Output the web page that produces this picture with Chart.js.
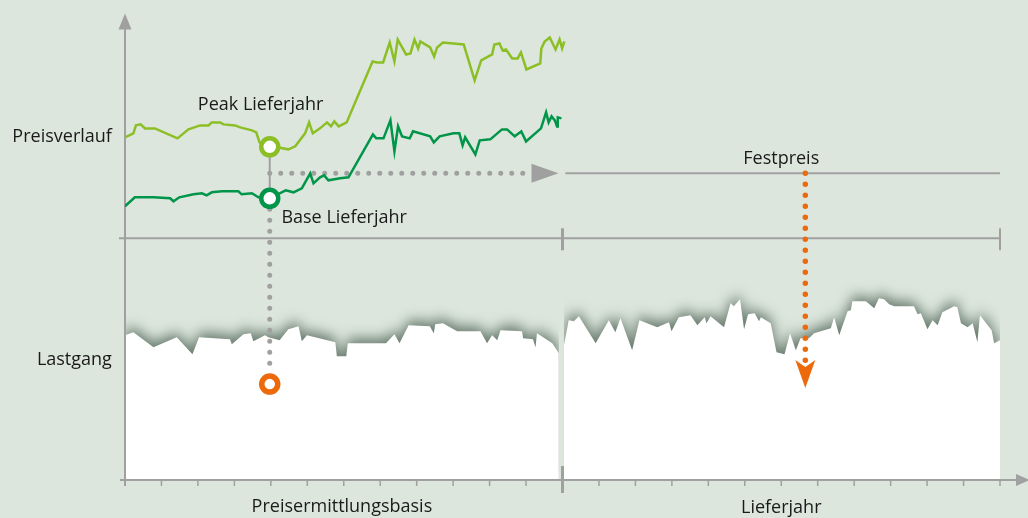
<!DOCTYPE html>
<html lang="de">
<head>
  <meta charset="UTF-8">
  <title>Preisverlauf und Lastgang</title>
  <script src="https://cdn.jsdelivr.net/npm/chart.js"></script>
  <style>
    html, body {
      margin: 0;
      padding: 0;
      background: #dce6dd;
    }
    canvas {
      display: block;
    }
  </style>
</head>
<body>
<canvas id="chart" width="1028" height="518"></canvas>

<script>
// x: Monate (0-12 Preisermittlungsbasis, 12-24 Lieferjahr), y: Indexwerte
const tickMonths = [0,1,2,3,4,5,6,7,8,9,10,11,12,13,14,15,16,17,18,19,20,21,22,23,24];

const peakMonths = [0,0.23,0.30,0.43,0.55,0.82,1.44,1.74,2.06,2.29,2.38,2.61,2.70,3.02,3.16,3.48,3.60,3.69,3.97,4.17,
  4.48,4.67,4.94,5.05,5.15,5.35,5.54,5.65,5.74,5.86,6.08,6.79,6.91,7.08,7.26,7.39,7.48,7.71,7.83,7.94,
  8.04,8.10,8.37,8.48,8.56,8.72,9.29,9.59,9.77,10.07,10.13,10.27,10.36,10.45,10.62,10.77,10.86,11.01,11.39,11.42,
  11.51,11.65,11.81,11.92,11.99,12.05];
const peakPrice = [343,347,355,356,352,352,342,351,355,355,358,358,356,355,353,350,348,338,333,333,
  331,334,347,358,347,352,358,354,359,354,358,419,418,418,438,419,441,426,427,441,
  432,439,433,424,433,438,436,400,420,426,436,437,430,431,422,422,428,411,417,432,
  439,443,431,441,432,439];

const baseMonths = [0,0.27,0.78,1.24,1.33,1.49,1.88,2.11,2.24,2.38,2.66,3.11,3.20,3.48,3.66,3.97,4.41,4.62,4.85,5.08,
  5.17,5.35,5.46,5.58,5.90,6.13,6.80,6.89,7.09,7.28,7.39,7.49,7.60,7.81,7.90,8.37,8.47,8.63,9.01,9.17,
  9.26,9.33,9.61,9.73,10.02,10.34,10.48,10.69,10.87,11.00,11.41,11.55,11.62,11.70,11.79,11.85,11.87,11.97];
const basePrice = [274,283,283,282,279,283,286,287,285,288,289,289,286,287,283,282,290,288,292,307,
  297,303,305,300,302,303,346,342,342,360,329,354,344,342,349,344,338,344,347,347,
  335,343,326,340,341,351,351,344,349,339,352,368,358,364,360,354,363,362];

// Lastgang: Preisermittlungsbasis und Lieferjahr
const loadMonthsA = [0,0.23,0.78,1.42,1.85,2.03,2.88,2.93,3.25,3.45,3.52,3.84,3.93,4.24,4.48,4.76,4.85,4.99,5.77,5.81,
  6.07,6.11,7.16,7.39,7.53,7.78,8.36,8.47,8.51,8.72,9.11,9.75,9.93,10.07,10.21,10.30,10.89,10.92,11.19,11.26,
  11.30,11.72,11.90];
const loadA = [145,148,133,143,126,143,141,136,146,147,139,145,143,140,151,154,139,145,138,124,
  124,137,137,146,137,155,154,147,156,157,149,149,137,145,140,150,149,142,141,133,
  147,137,127];

const loadMonthsB = [12.04,12.17,12.31,12.45,12.91,13.27,13.45,13.59,13.91,14.11,14.60,14.92,14.99,15.19,15.51,15.70,15.90,15.95,16.06,16.43,
  16.61,16.70,16.87,16.98,17.09,17.27,17.39,17.44,17.71,17.87,18.09,18.24,18.40,18.53,18.76,18.90,19.36,19.45,19.59,19.82,
  19.91,19.95,20.32,20.55,20.68,20.82,20.96,21.10,21.64,21.74,21.83,22.01,22.15,22.29,22.42,22.74,22.83,22.93,23.11,23.25,
  23.38,23.45,23.77,23.84,24];
const loadB = [135,160,159,164,137,160,148,162,130,160,153,158,149,163,165,155,163,157,164,153,
  177,174,181,151,166,167,159,163,157,128,126,147,130,142,142,147,152,163,145,169,
  170,179,179,172,182,181,176,174,174,166,167,151,160,155,168,174,173,157,153,157,
  138,165,150,137,140];

// Markierungen
const fixMonth = 3.97;        // Preisfixierung
const peakAtFix = 333.5;
const baseAtFix = 282;
const fixPrice = 307;         // Festpreis
const fixArrowEnd = 11.07;
const fixArrowTip = 11.89;
const fixLineStart = 12.08;
const supplyMonth = 18.66;
const supplyArrowTip = 92;
const loadAtFix = 96;
const midLine = 242;
const yArrowBase = 452;

const labels = [
  { text: 'Peak Lieferjahr', x: 3.72, y: 370, align: 'center' },
  { text: 'Base Lieferjahr', x: 4.29, y: 257, align: 'left' },
  { text: 'Festpreis', x: 18, y: 316, align: 'center' },
  { text: 'Preisermittlungsbasis', x: 5.95, y: -32, align: 'center' },
  { text: 'Lieferjahr', x: 18, y: -33, align: 'center' },
  { text: 'Preisverlauf', x: -0.36, y: 338, align: 'right' },
  { text: 'Lastgang', x: -0.36, y: 115, align: 'right' }
];

const grey = '#a0a0a0';
const peakGreen = '#8cbf26';
const baseGreen = '#009548';
const orange = '#ec6a0c';

const pts = (xs, ys) => xs.map((x, i) => ({ x, y: ys[i] }));

function drawAxes(chart) {
  const { ctx, chartArea: a, scales: { x, y } } = chart;
  ctx.save();
  ctx.strokeStyle = grey;
  ctx.fillStyle = grey;
  ctx.lineWidth = 2;

  // y axis with arrow
  ctx.beginPath();
  ctx.moveTo(a.left, a.bottom + 6);
  ctx.lineTo(a.left, y.getPixelForValue(yArrowBase));
  ctx.stroke();
  ctx.beginPath();
  ctx.moveTo(a.left, a.top);
  ctx.lineTo(a.left - 6.5, a.top + 16);
  ctx.lineTo(a.left + 6.5, a.top + 16);
  ctx.closePath();
  ctx.fill();

  // x axis with arrow
  ctx.beginPath();
  ctx.moveTo(a.left - 5, a.bottom);
  ctx.lineTo(a.right + 18, a.bottom);
  ctx.stroke();
  ctx.beginPath();
  ctx.moveTo(a.right + 30, a.bottom);
  ctx.lineTo(a.right + 16, a.bottom - 6);
  ctx.lineTo(a.right + 16, a.bottom + 6);
  ctx.closePath();
  ctx.fill();

  ctx.lineWidth = 1.5;
  tickMonths.forEach(m => {
    const px = x.getPixelForValue(m);
    ctx.beginPath();
    ctx.moveTo(px, a.bottom);
    ctx.lineTo(px, a.bottom + 6);
    ctx.stroke();
  });
  ctx.lineWidth = 3;
  ctx.beginPath();
  ctx.moveTo(x.getPixelForValue(12), a.bottom - 14);
  ctx.lineTo(x.getPixelForValue(12), a.bottom + 13);
  ctx.stroke();

  // middle line between Preisverlauf and Lastgang
  const my = y.getPixelForValue(midLine);
  ctx.lineWidth = 2;
  ctx.beginPath();
  ctx.moveTo(a.left - 6, my);
  ctx.lineTo(a.right, my);
  ctx.stroke();
  ctx.lineWidth = 3;
  ctx.beginPath();
  ctx.moveTo(x.getPixelForValue(12), my - 10);
  ctx.lineTo(x.getPixelForValue(12), my + 12);
  ctx.stroke();
  ctx.lineWidth = 2;
  ctx.beginPath();
  ctx.moveTo(a.right, my - 10);
  ctx.lineTo(a.right, my + 12);
  ctx.stroke();
  ctx.restore();
}

const schemaPlugin = {
  id: 'schema',
  beforeDatasetsDraw(chart) {
    // soft shadow on the top edge of the Lastgang areas
    const ctx = chart.ctx;
    ctx.save();
    ctx.shadowColor = 'rgba(85,105,90,0.85)';
    ctx.shadowBlur = 13;
    ctx.shadowOffsetY = -5;
  },
  afterDatasetDraw(chart, args) {
    if (args.index !== 1) return;
    chart.ctx.restore();
    drawAxes(chart);
  },
  afterDatasetsDraw(chart) {
    const { ctx, scales: { x, y } } = chart;
    ctx.save();

    // grey arrow head
    const gx = x.getPixelForValue(fixArrowTip);
    const gy = y.getPixelForValue(fixPrice);
    ctx.fillStyle = grey;
    ctx.beginPath();
    ctx.moveTo(gx, gy);
    ctx.lineTo(gx - 27, gy - 9.5);
    ctx.lineTo(gx - 27, gy + 9.5);
    ctx.closePath();
    ctx.fill();

    // orange arrow head
    const ox = x.getPixelForValue(supplyMonth);
    const oy = y.getPixelForValue(supplyArrowTip);
    ctx.fillStyle = orange;
    ctx.beginPath();
    ctx.moveTo(ox, oy);
    ctx.lineTo(ox - 10, oy - 28);
    ctx.lineTo(ox, oy - 21);
    ctx.lineTo(ox + 10, oy - 28);
    ctx.closePath();
    ctx.fill();

    ctx.fillStyle = '#1a1a1a';
    ctx.font = '18px "Open Sans"';
    ctx.textBaseline = 'alphabetic';
    labels.forEach(l => {
      ctx.textAlign = l.align;
      ctx.fillText(l.text, x.getPixelForValue(l.x), y.getPixelForValue(l.y));
    });
    ctx.restore();
  }
};

const dotted = (data, color, width, order) => ({
  data, borderColor: color, borderWidth: width, borderDash: [0, 11],
  borderCapStyle: 'round', pointRadius: 0, fill: false, order
});

new Chart(document.getElementById('chart'), {
  type: 'line',
  data: {
    datasets: [
      { data: pts(loadMonthsA, loadA), fill: 'origin', backgroundColor: '#ffffff', borderWidth: 0, pointRadius: 0, order: 11 },
      { data: pts(loadMonthsB, loadB), fill: 'origin', backgroundColor: '#ffffff', borderWidth: 0, pointRadius: 0, order: 10 },
      { data: pts(peakMonths, peakPrice), borderColor: peakGreen, borderWidth: 2.5, pointRadius: 0, fill: false, order: 5 },
      { data: pts(baseMonths, basePrice), borderColor: baseGreen, borderWidth: 2.5, pointRadius: 0, fill: false, order: 5 },
      { data: [{ x: fixLineStart, y: fixPrice }, { x: 24, y: fixPrice }], borderColor: grey, borderWidth: 2, pointRadius: 0, fill: false, order: 6 },
      dotted([{ x: fixMonth, y: fixPrice }, { x: fixArrowEnd, y: fixPrice }], grey, 5, 6),
      { data: [{ x: fixMonth, y: peakAtFix }, { x: fixMonth, y: baseAtFix }], borderColor: grey, borderWidth: 2, pointRadius: 0, fill: false, order: 4 },
      dotted([{ x: fixMonth, y: baseAtFix }, { x: fixMonth, y: 114 }], grey, 5, 4),
      dotted([{ x: supplyMonth, y: fixPrice }, { x: supplyMonth, y: 117 }], orange, 5.5, 3),
      {
        data: [{ x: fixMonth, y: peakAtFix }, { x: fixMonth, y: baseAtFix }, { x: fixMonth, y: loadAtFix }],
        showLine: false,
        pointRadius: [8.5, 8.5, 8],
        pointHoverRadius: [8.5, 8.5, 8],
        pointBorderWidth: [4.5, 4.5, 5.5],
        pointBackgroundColor: '#ffffff',
        pointBorderColor: [peakGreen, baseGreen, orange],
        order: 1
      }
    ]
  },
  options: {
    responsive: false,
    animation: false,
    layout: { padding: { left: 125, right: 28, top: 13, bottom: 38 } },
    plugins: { legend: { display: false }, tooltip: { enabled: false } },
    elements: { line: { tension: 0 } },
    scales: {
      x: { type: 'linear', min: 0, max: 24, display: false },
      y: { type: 'linear', min: 0, max: 467, display: false }
    }
  },
  plugins: [schemaPlugin]
});
</script>

</body>
</html>
